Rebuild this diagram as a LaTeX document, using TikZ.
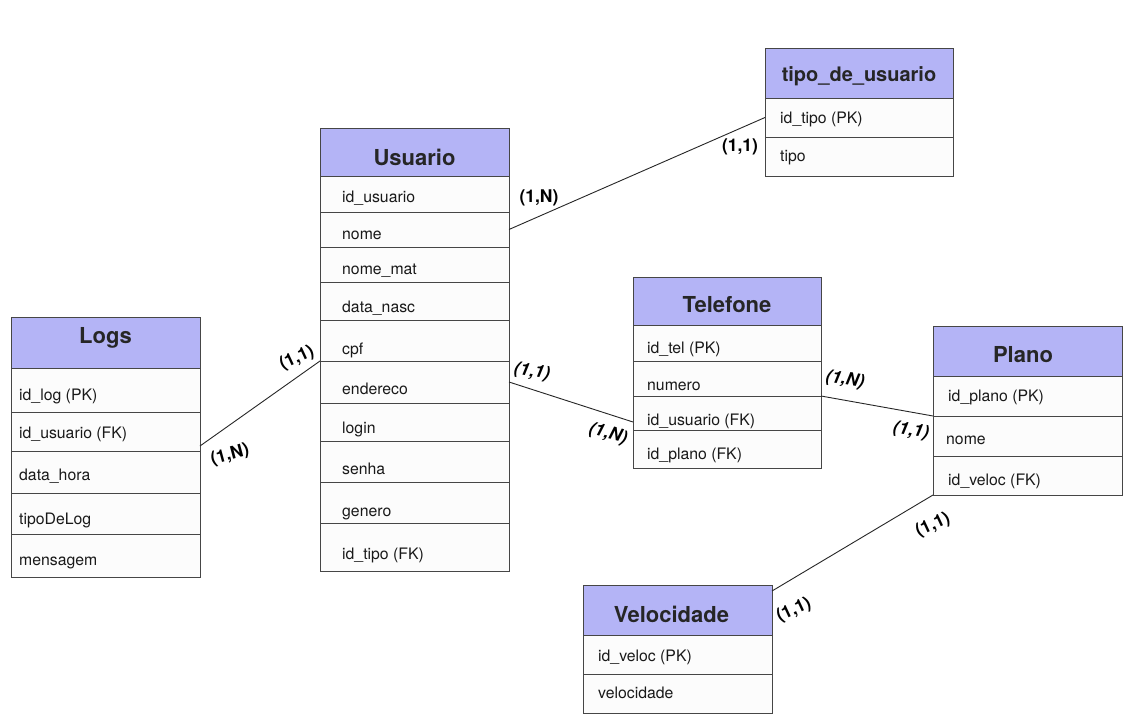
\documentclass[tikz,border=0pt]{standalone}
\usepackage{fontspec}
\setmainfont{TeX Gyre Heros}
\usetikzlibrary{calc}
\definecolor{hdrfill}{RGB}{180,180,246}
\definecolor{rowfill}{RGB}{252,252,252}
\definecolor{boxline}{RGB}{70,70,70}

\tikzset{
  hdrbox/.style={draw=boxline, fill=hdrfill, line width=1pt, inner sep=0pt, outer sep=0pt,
                 anchor=north west, minimum width=189pt},
  rowbox/.style={draw=boxline, fill=rowfill, line width=1pt, inner sep=0pt, outer sep=0pt,
                 anchor=north west, minimum width=189pt},
  title/.style={inner sep=0pt, text=black!85, font=\bfseries\fontsize{22}{26}\selectfont},
  field/.style={anchor=mid west, inner sep=0pt, text=black!90, font=\fontsize{15.8}{18}\selectfont},
  card/.style={inner sep=0pt, font=\bfseries\fontsize{17.5}{20}\selectfont},
  cardit/.style={inner sep=0pt, font=\bfseries\itshape\fontsize{17.5}{20}\selectfont},
  link/.style={draw=black!85, line width=0.9pt}
}

\begin{document}
\begin{tikzpicture}[x=1pt, y=-1pt]
\useasboundingbox[fill=white] (0,0) rectangle (1133,726);

% ---- Logs ----
\node[hdrbox, minimum height=51pt] (logs0) at (11,317) {};
\node[title] (logs0t) at (105.5,338) {Logs};
\foreach [count=\i] \top/\h/\ty/\txt in {368/44/398/id\_log (PK), 412/39/436/id\_usuario (FK),
    451/42/478/data\_hora, 493/41/522/tipoDeLog, 534/43/563/mensagem}
  {\node[rowbox, minimum height=\h pt] (logs\i) at (11,\top) {};
   \node[field] (logs\i t) at (19,\ty) {\txt};}

% ---- Usuario ----
\node[hdrbox, minimum height=48pt] (usr0) at (320,128) {};
\node[title] (usr0t) at (414.5,157) {Usuario};
\foreach [count=\i] \top/\h/\ty/\txt in {176/36/200/id\_usuario, 212/35/237/nome,
    247/35/272/nome\_mat, 282/38/310/data\_nasc, 320/41/352/cpf, 361/42/392/endereco,
    403/38/431/login, 441/41/472/senha, 482/41/514/genero, 523/48/557/id\_tipo (FK)}
  {\node[rowbox, minimum height=\h pt] (usr\i) at (320,\top) {};
   \node[field] (usr\i t) at (342,\ty) {\txt};}

% ---- tipo_de_usuario ----
\node[hdrbox, minimum height=50pt, minimum width=188pt] (tipo0) at (765,48) {};
\node[title, font=\bfseries\fontsize{20}{24}\selectfont] (tipo0t) at (859,76) {tipo\_de\_usuario};
\foreach [count=\i] \top/\h/\ty/\txt in {98/39/121/id\_tipo (PK), 137/39/159/tipo}
  {\node[rowbox, minimum height=\h pt, minimum width=188pt] (tipo\i) at (765,\top) {};
   \node[field] (tipo\i t) at (780,\ty) {\txt};}

% ---- Telefone ----
\node[hdrbox, minimum height=48pt, minimum width=188pt] (tel0) at (633,277) {};
\node[title] (tel0t) at (727,305) {Telefone};
\foreach [count=\i] \top/\h/\ty/\txt in {325/36/351/id\_tel (PK), 361/35/388/numero,
    396/34/423/id\_usuario (FK), 430/38/457/id\_plano (FK)}
  {\node[rowbox, minimum height=\h pt, minimum width=188pt] (tel\i) at (633,\top) {};
   \node[field] (tel\i t) at (647,\ty) {\txt};}

% ---- Plano ----
\node[hdrbox, minimum height=50pt] (plano0) at (933,326) {};
\node[title] (plano0t) at (1023,355) {Plano};
\foreach [count=\i] \top/\h/\tx/\ty/\txt in {376/40/948/399/id\_plano (PK), 416/40/946/442/nome,
    456/39/948/483/id\_veloc (FK)}
  {\node[rowbox, minimum height=\h pt] (plano\i) at (933,\top) {};
   \node[field] (plano\i t) at (\tx,\ty) {\txt};}

% ---- Velocidade ----
\node[hdrbox, minimum height=50pt] (vel0) at (583,585) {};
\node[title] (vel0t) at (671.5,614) {Velocidade};
\foreach [count=\i] \top/\h/\ty/\txt in {635/39/659/id\_veloc (PK), 674/39/696/velocidade}
  {\node[rowbox, minimum height=\h pt] (vel\i) at (583,\top) {};
   \node[field] (vel\i t) at (598,\ty) {\txt};}

% ---- relationships ----
\draw[link] ($(logs2.south east)+(0,-5)$) -- (usr5.south west);
\draw[link] (usr2.east) -- (tipo1.west);
\draw[link] (usr6.east) -- ($(tel3.west)+(0,9)$);
\draw[link] (tel2.south east) -- (plano1.south west);
\draw[link] (plano3.south west) -- ($(vel0.north east)+(0,6)$);

% ---- cardinalities ----
\node[card, rotate=25] (c1) at (297,358) {(1,1)};
\node[card, rotate=15] (c2) at (230,455) {(1,N)};
\node[card] (c3) at (539,198) {(1,N)};
\node[card] (c4) at (740,147) {(1,1)};
\node[cardit, rotate=-10] (c5) at (532,372) {(1,1)};
\node[cardit, rotate=-15] (c6) at (608,434) {(1,N)};
\node[cardit, rotate=-10] (c7) at (845,380) {(1,N)};
\node[cardit, rotate=-10] (c8) at (911,431) {(1,1)};
\node[card, rotate=25] (c9) at (933,525) {(1,1)};
\node[card, rotate=25] (c10) at (794,610) {(1,1)};
\end{tikzpicture}
\end{document}
